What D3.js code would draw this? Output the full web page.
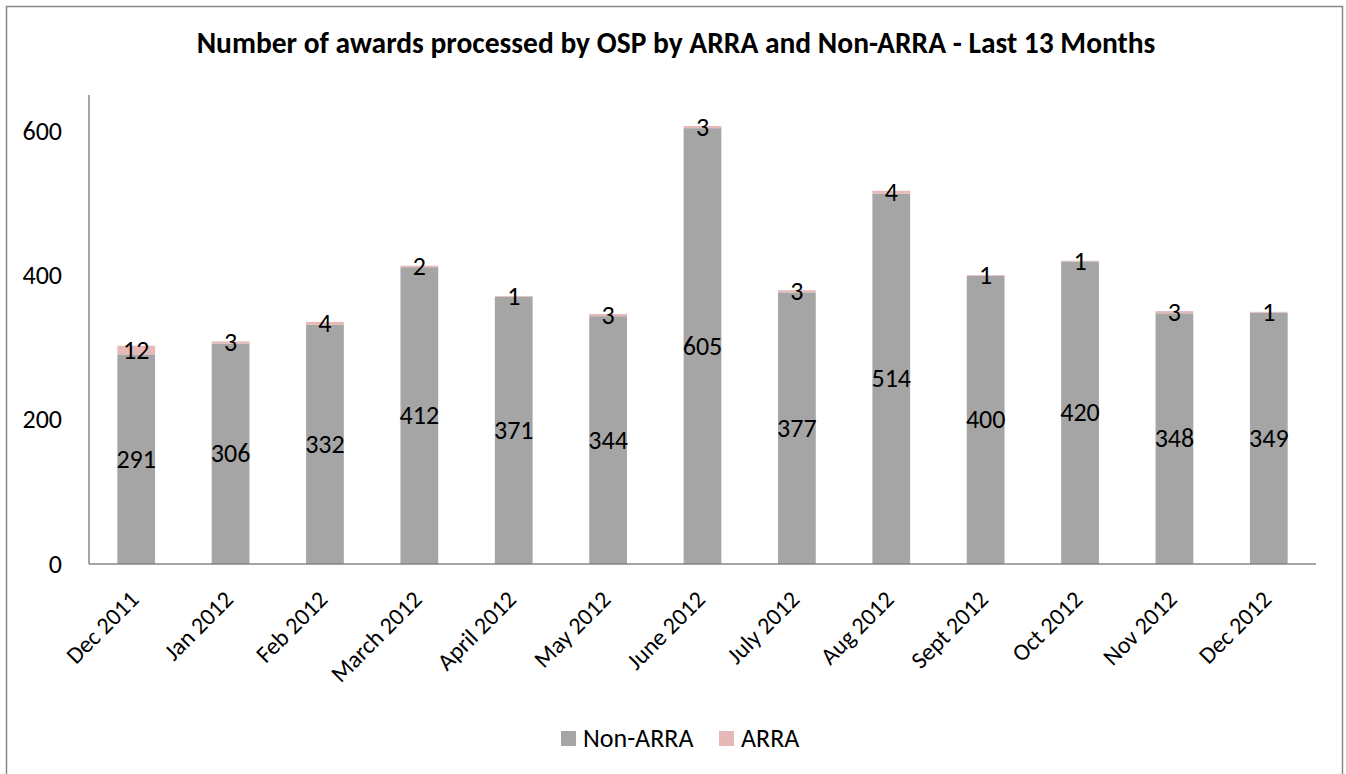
<!DOCTYPE html>
<html>
<head>
<meta charset="utf-8">
<script src="https://cdn.jsdelivr.net/npm/d3@7"></script>
<style>
  body { margin: 0; background: #fff; }
  text { font-family: Carlito, "Open Sans", "Liberation Sans", sans-serif; }
</style>
</head>
<body>
<div id="chart"></div>
<script>
// data
var months = ["Dec 2011", "Jan 2012", "Feb 2012", "March 2012", "April 2012", "May 2012",
  "June 2012", "July 2012", "Aug 2012", "Sept 2012", "Oct 2012", "Nov 2012", "Dec 2012"]
var nonArra = [291, 306, 332, 412, 371, 344, 605, 377, 514, 400, 420, 348, 349]
var arra = [12, 3, 4, 2, 1, 3, 3, 3, 4, 1, 1, 3, 1]
var seriesNames = ["Non-ARRA", "ARRA"]
var yTicks = [0, 200, 400, 600]

var width = 1346
var height = 774
var plot = {left: 89, right: 1316, top: 95, bottom: 564}
var colors = ["#A5A5A5", "#E6B9B8"]

var svg = d3.select("#chart")
  .append("svg")
    .attr("width", width)
    .attr("height", height)

// outer frame
svg.append("rect")
  .attr("x", 6.5).attr("y", 6.5)
  .attr("width", 1336).attr("height", 800)
  .attr("fill", "none")
  .attr("stroke", "#888")
  .attr("stroke-width", 1.5)

svg.append("text")
  .attr("x", 676).attr("y", 53)
  .attr("text-anchor", "middle")
  .style("font-size", "29.5px")
  .style("font-weight", "bold")
  .text("Number of awards processed by OSP by ARRA and Non-ARRA - Last 13 Months")

var x = d3.scaleBand()
  .domain(months)
  .range([plot.left, plot.right])
  .paddingInner(0.6)
  .paddingOuter(0.3)

var y = d3.scaleLinear()
  .domain([0, 651])
  .range([plot.bottom, plot.top])

var rows = months.map(function(m, i) {
  return {month: m, "Non-ARRA": nonArra[i], "ARRA": arra[i]}
})
var stacked = d3.stack().keys(seriesNames)(rows)

var layers = svg.append("g")
  .selectAll("g")
  .data(stacked)
  .enter()
  .append("g")
    .attr("fill", function(d, i) { return colors[i] })

layers.selectAll("rect")
  .data(function(d) { return d })
  .enter()
  .append("rect")
    .attr("x", function(d) { return x(d.data.month) })
    .attr("width", x.bandwidth())
    .attr("y", function(d) { return y(d[1]) })
    .attr("height", function(d) { return y(d[0]) - y(d[1]) })

layers.selectAll("text")
  .data(function(d) { return d.map(function(v) { return {v: v, key: d.key} }) })
  .enter()
  .append("text")
    .attr("x", function(d) { return x(d.v.data.month) + x.bandwidth() / 2 })
    .attr("y", function(d) { return (y(d.v[0]) + y(d.v[1])) / 2 })
    .attr("dy", "0.33em")
    .attr("text-anchor", "middle")
    .attr("fill", "#000")
    .style("font-size", "26px")
    .text(function(d) { return d.v.data[d.key] })

// axes
svg.append("line")
  .attr("x1", plot.left).attr("x2", plot.left)
  .attr("y1", plot.top).attr("y2", plot.bottom)
  .attr("stroke", "#868686").attr("stroke-width", 1.5)

svg.append("line")
  .attr("x1", plot.left).attr("x2", plot.right)
  .attr("y1", plot.bottom).attr("y2", plot.bottom)
  .attr("stroke", "#868686").attr("stroke-width", 1.5)

svg.append("g")
  .selectAll("text")
  .data(yTicks)
  .enter()
  .append("text")
    .attr("x", 62)
    .attr("y", function(d) { return y(d) })
    .attr("dy", "0.33em")
    .attr("text-anchor", "end")
    .style("font-size", "26px")
    .text(function(d) { return d })

svg.append("g")
  .selectAll("text")
  .data(months)
  .enter()
  .append("text")
    .attr("transform", function(d) {
      return "translate(" + (x(d) + x.bandwidth() / 2 + 4) + "," + 601 + ") rotate(-45)"
    })
    .attr("text-anchor", "end")
    .style("font-size", "24px")
    .text(function(d) { return d })

// legend
var legend = svg.append("g")
var legendX = [561, 719]
seriesNames.forEach(function(name, i) {
  legend.append("rect")
    .attr("x", legendX[i]).attr("y", 731)
    .attr("width", 15).attr("height", 15)
    .attr("fill", colors[i])
  legend.append("text")
    .attr("x", legendX[i] + 22).attr("y", 738)
    .attr("dy", "0.33em")
    .style("font-size", "26px")
    .text(name)
})
</script>
</body>
</html>
